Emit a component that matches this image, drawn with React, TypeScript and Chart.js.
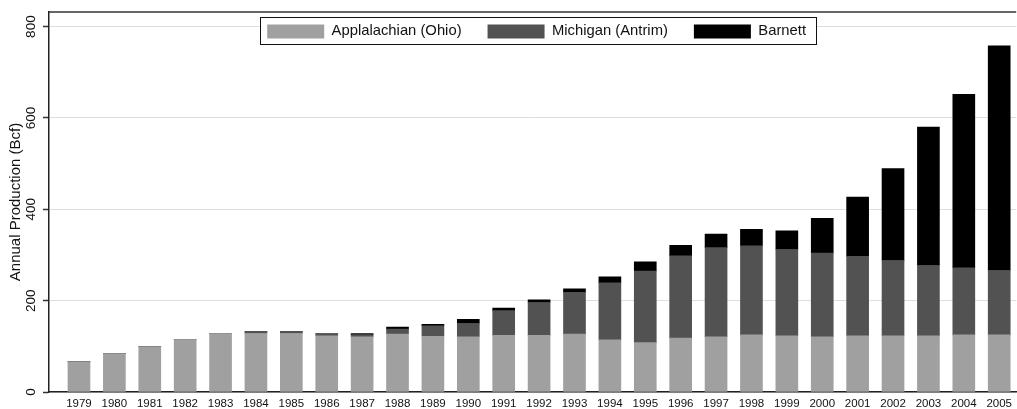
import React, { useEffect, useRef } from "react";
import { Chart, registerables } from "chart.js";

Chart.register(...registerables);

// ---------- data ----------
const years = [
  1979, 1980, 1981, 1982, 1983, 1984, 1985, 1986, 1987, 1988, 1989, 1990, 1991, 1992,
  1993, 1994, 1995, 1996, 1997, 1998, 1999, 2000, 2001, 2002, 2003, 2004, 2005,
];
const ohio = [
  66, 84, 99, 115, 128, 128, 128, 123, 121, 127, 122, 121, 124, 124,
  127, 114, 108, 118, 121, 125, 123, 121, 123, 123, 123, 125, 125,
];
const michigan = [
  0, 0, 0, 0, 0, 5, 5, 5, 4.5, 11, 23, 29, 54, 72,
  91, 125, 157, 180, 195, 195, 189, 183, 174, 165, 154, 147, 141,
];
const barnett = [
  0, 0, 0, 0, 0, 0, 0, 0, 2.5, 4, 3, 9, 6, 6,
  8, 13, 20, 23, 30, 36, 41, 76, 130, 201, 303, 380, 492,
];
const seriesNames = ["Applalachian (Ohio)", "Michigan (Antrim)", "Barnett"];
const seriesColors = ["#a0a0a0", "#525252", "#000000"];
const yTickValues = [0, 200, 400, 600, 800];
const yTitle = "Annual Production (Bcf)";
const yMax = 832;

const FONT = "'Liberation Sans', Arial, Helvetica, sans-serif";
const X_PAD_LEFT = 0.847; // category units before first bar
const X_PAD_RIGHT = 0.48; // category units after last bar

const framePlugin = {
  id: "frameAndLegendBox",
  afterLayout(chart: any) {
    const lg = chart.legend;
    const ca = chart.chartArea;
    if (!lg || !lg.lineWidths) return;
    const pad = lg.options.labels.padding;
    const contentW = lg.lineWidths[0] - pad;
    const boxW = contentW + 17;
    const boxLeft = (ca.left + ca.right) / 2 + 5.5 - boxW / 2;
    const startX = boxLeft + 7;
    lg.left = startX - pad;
    lg.right = lg.left + 3000;
    lg.width = 3000;
    lg.top = ca.top + 12 - pad;
    lg.bottom = lg.top + 300;
    lg.height = 300;
    chart.$legendFrame = { x: boxLeft, y: ca.top + 5, w: boxW, h: 27 };
  },
  afterDraw(chart: any) {
    const ctx = chart.ctx;
    const ca = chart.chartArea;
    ctx.save();
    ctx.strokeStyle = "#333";
    ctx.lineWidth = 1.5;
    ctx.beginPath();
    ctx.moveTo(ca.left, ca.top);
    ctx.lineTo(ca.right, ca.top);
    ctx.stroke();
    const f = chart.$legendFrame;
    if (f) {
      ctx.fillStyle = "#ffffff";
      ctx.fillRect(f.x, f.y, f.w, f.h);
      ctx.strokeStyle = "#111";
      ctx.lineWidth = 1;
      ctx.strokeRect(Math.round(f.x) + 0.5, Math.round(f.y) + 0.5, Math.round(f.w), Math.round(f.h));
    }
    ctx.restore();
    if (chart.legend) chart.legend.draw(chart.chartArea);
  },
};

export default function App() {
  const ref = useRef<HTMLCanvasElement>(null);

  useEffect(() => {
    if (!ref.current) return;
    Chart.defaults.font.family = FONT;
    Chart.defaults.color = "#111";
    const series = [ohio, michigan, barnett];
    const chart = new Chart(ref.current, {
      type: "bar",
      data: {
        datasets: series.map((vals, i) => ({
          label: seriesNames[i],
          data: years.map((yr, j) => ({ x: yr, y: vals[j] })),
          backgroundColor: seriesColors[i],
          borderWidth: 0,
          barThickness: 22,
        })),
      },
      options: {
        animation: false,
        responsive: false,
        devicePixelRatio: 1,
        layout: { padding: { top: 12, left: 0, right: 0, bottom: 0 } },
        plugins: {
          legend: {
            position: "top",
            align: "start",
            maxHeight: 0.001,
            labels: {
              boxWidth: 57,
              boxHeight: 14,
              padding: 26,
              color: "#111",
              font: { size: 14.8, family: FONT },
            },
          },
          tooltip: { enabled: false },
        },
        scales: {
          x: {
            type: "linear",
            stacked: true,
            offset: false,
            min: years[0] - X_PAD_LEFT,
            max: years[years.length - 1] + X_PAD_RIGHT,
            grid: { display: false, drawTicks: false },
            border: { display: true, color: "#222", width: 1.5 },
            ticks: {
              stepSize: 1,
              autoSkip: false,
              maxTicksLimit: 100,
              includeBounds: false,
              maxRotation: 0,
              minRotation: 0,
              padding: 5,
              color: "#111",
              font: { size: 11.5, family: FONT },
              callback: (v: any) => (years.includes(v) ? String(v) : ""),
            },
            afterFit: (s: any) => {
              s.height = 17;
            },
          },
          y: {
            type: "linear",
            stacked: true,
            min: 0,
            max: yMax,
            afterBuildTicks: (s: any) => {
              s.ticks = yTickValues.map((v) => ({ value: v }));
            },
            grid: {
              color: "#dedede",
              lineWidth: 1,
              tickColor: "#333",
              tickLength: 6,
              tickWidth: 1.5,
            },
            border: { display: true, color: "#222", width: 1.5 },
            ticks: {
              minRotation: 90,
              maxRotation: 90,
              crossAlign: "center",
              padding: 0,
              color: "#111",
              font: { size: 13.5, family: FONT },
            },
            title: {
              display: true,
              text: yTitle,
              color: "#111",
              font: { size: 15, family: FONT },
              padding: { top: 7, bottom: 0 },
            },
            afterFit: (s: any) => {
              s.width = 49;
            },
          },
        },
      },
      plugins: [framePlugin],
    } as any);
    return () => chart.destroy();
  }, []);

  return (
    <div
      style={{
        position: "fixed",
        left: 0,
        top: 0,
        width: 1017,
        height: 409,
        background: "#fff",
      }}
    >
      <canvas ref={ref} width={1017} height={409} style={{ display: "block" }} />
    </div>
  );
}
